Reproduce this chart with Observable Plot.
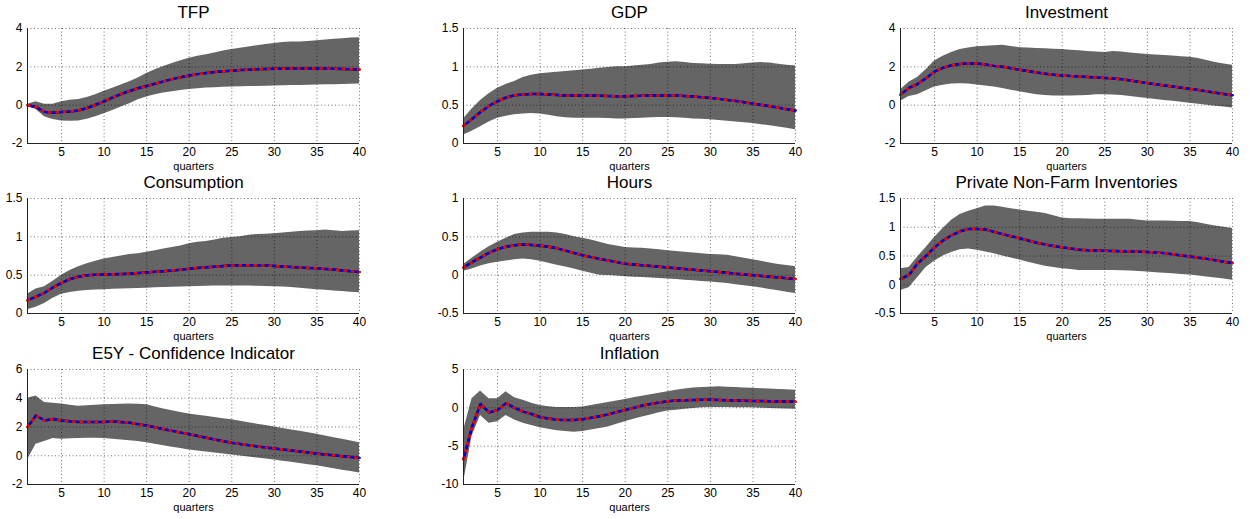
<!DOCTYPE html>
<html>
<head>
<meta charset="utf-8">
<script src="https://cdn.jsdelivr.net/npm/d3@7"></script>
<script src="https://cdn.jsdelivr.net/npm/@observablehq/plot@0.6"></script>
<style>
  body { margin: 0; background: #fff; }
  #root { position: relative; width: 1254px; height: 519px; overflow: hidden; background: #fff; font-family: "Liberation Sans", Arial, sans-serif; }
  #root > div { position: absolute; }
  svg { overflow: visible; }
</style>
</head>
<body>
<div id="root"></div>
<script>
const quarters = [1,2,3,4,5,6,7,8,9,10,11,12,13,14,15,16,17,18,19,20,21,22,23,24,25,26,27,28,29,30,31,32,33,34,35,36,37,38,39,40];
const xTicks = [5,10,15,20,25,30,35,40];

const titles = ["TFP","GDP","Investment","Consumption","Hours","Private Non-Farm Inventories","E5Y - Confidence Indicator","Inflation"];

const tfpMed = [0,-0.1,-0.35,-0.4,-0.36,-0.33,-0.28,-0.15,0.02,0.2,0.4,0.58,0.74,0.88,1.0,1.12,1.24,1.36,1.46,1.55,1.62,1.68,1.73,1.77,1.8,1.83,1.85,1.87,1.89,1.9,1.9,1.91,1.91,1.91,1.91,1.91,1.9,1.89,1.88,1.86];
const tfpHi = [0.05,0.18,0.05,0.05,0.18,0.26,0.3,0.4,0.55,0.72,0.88,1.05,1.22,1.42,1.65,1.85,2.02,2.18,2.32,2.45,2.55,2.63,2.72,2.82,2.9,2.97,3.04,3.1,3.17,3.22,3.27,3.3,3.3,3.32,3.36,3.4,3.44,3.47,3.5,3.52];
const tfpLo = [-0.05,-0.22,-0.6,-0.75,-0.82,-0.84,-0.82,-0.74,-0.6,-0.45,-0.28,-0.1,0.08,0.28,0.43,0.54,0.63,0.7,0.76,0.82,0.86,0.89,0.91,0.93,0.95,0.96,0.97,0.98,0.99,1.0,1.01,1.02,1.03,1.04,1.05,1.06,1.07,1.08,1.09,1.1];

const gdpMed = [0.23,0.32,0.41,0.49,0.55,0.6,0.63,0.64,0.645,0.645,0.64,0.633,0.625,0.625,0.625,0.625,0.623,0.62,0.615,0.615,0.618,0.622,0.625,0.625,0.625,0.625,0.62,0.612,0.604,0.595,0.582,0.568,0.553,0.537,0.52,0.503,0.485,0.467,0.448,0.43];
const gdpHi = [0.32,0.45,0.56,0.65,0.72,0.77,0.81,0.86,0.89,0.91,0.92,0.93,0.94,0.95,0.96,0.97,0.98,0.99,1.0,1.0,1.01,1.02,1.03,1.05,1.06,1.065,1.055,1.045,1.04,1.035,1.03,1.03,1.03,1.04,1.05,1.055,1.05,1.035,1.02,1.01];
const gdpLo = [0.11,0.16,0.22,0.28,0.33,0.355,0.375,0.385,0.39,0.385,0.37,0.35,0.335,0.33,0.33,0.33,0.328,0.325,0.32,0.32,0.325,0.33,0.335,0.34,0.34,0.335,0.33,0.32,0.315,0.31,0.3,0.29,0.28,0.27,0.26,0.245,0.23,0.215,0.2,0.18];

const invMed = [0.55,0.9,1.1,1.4,1.75,1.95,2.08,2.15,2.18,2.17,2.12,2.05,2.0,1.93,1.85,1.78,1.7,1.64,1.59,1.55,1.52,1.5,1.47,1.44,1.42,1.39,1.35,1.29,1.22,1.15,1.09,1.03,0.97,0.91,0.85,0.79,0.72,0.65,0.58,0.52];
const invHi = [0.8,1.2,1.45,1.85,2.3,2.55,2.75,2.9,2.98,3.05,3.08,3.1,3.12,3.06,3.0,2.98,2.96,2.94,2.92,2.9,2.87,2.84,2.8,2.77,2.75,2.8,2.77,2.72,2.68,2.65,2.62,2.59,2.56,2.53,2.5,2.43,2.33,2.22,2.15,2.08];
const invLo = [0.2,0.45,0.55,0.75,0.95,1.04,1.1,1.12,1.1,1.05,1.0,0.95,0.87,0.78,0.7,0.62,0.55,0.5,0.48,0.48,0.48,0.49,0.51,0.54,0.55,0.53,0.5,0.45,0.4,0.35,0.3,0.25,0.2,0.15,0.1,0.05,0.0,-0.05,-0.1,-0.15];

const conMed = [0.17,0.22,0.27,0.34,0.4,0.45,0.48,0.5,0.505,0.51,0.512,0.515,0.52,0.527,0.535,0.543,0.552,0.56,0.572,0.585,0.593,0.602,0.61,0.618,0.625,0.628,0.63,0.63,0.627,0.62,0.614,0.607,0.6,0.595,0.59,0.582,0.573,0.562,0.551,0.54];
const conHi = [0.25,0.32,0.35,0.42,0.5,0.56,0.61,0.65,0.68,0.71,0.73,0.75,0.77,0.78,0.8,0.82,0.84,0.86,0.88,0.91,0.93,0.94,0.96,0.98,0.99,1.0,1.02,1.03,1.035,1.04,1.05,1.06,1.07,1.075,1.08,1.09,1.08,1.07,1.075,1.08];
const conLo = [0.05,0.08,0.13,0.2,0.25,0.275,0.29,0.3,0.305,0.31,0.315,0.32,0.323,0.327,0.33,0.335,0.34,0.343,0.347,0.35,0.353,0.356,0.358,0.36,0.36,0.36,0.358,0.355,0.352,0.35,0.345,0.338,0.33,0.32,0.31,0.302,0.295,0.287,0.278,0.27];

const hrsMed = [0.1,0.17,0.23,0.29,0.34,0.37,0.39,0.4,0.395,0.385,0.37,0.35,0.32,0.29,0.26,0.235,0.21,0.19,0.17,0.15,0.14,0.13,0.12,0.11,0.1,0.09,0.08,0.07,0.06,0.05,0.04,0.03,0.02,0.01,0.0,-0.01,-0.02,-0.03,-0.04,-0.05];
const hrsHi = [0.14,0.22,0.3,0.37,0.43,0.48,0.53,0.55,0.56,0.56,0.56,0.55,0.53,0.5,0.48,0.46,0.43,0.4,0.38,0.36,0.355,0.35,0.34,0.33,0.32,0.31,0.3,0.29,0.28,0.27,0.265,0.26,0.24,0.22,0.2,0.18,0.16,0.14,0.125,0.11];
const hrsLo = [0.05,0.08,0.12,0.15,0.17,0.185,0.2,0.21,0.2,0.18,0.155,0.13,0.105,0.08,0.05,0.025,0.0,-0.005,-0.012,-0.02,-0.026,-0.032,-0.038,-0.044,-0.05,-0.058,-0.066,-0.074,-0.082,-0.09,-0.1,-0.11,-0.125,-0.138,-0.15,-0.168,-0.186,-0.204,-0.222,-0.24];

const pnfMed = [0.1,0.17,0.37,0.5,0.65,0.77,0.86,0.93,0.97,0.97,0.96,0.92,0.88,0.845,0.81,0.77,0.73,0.7,0.675,0.65,0.63,0.61,0.6,0.595,0.59,0.587,0.583,0.58,0.575,0.57,0.56,0.55,0.53,0.51,0.49,0.47,0.45,0.425,0.4,0.38];
const pnfHi = [0.28,0.3,0.48,0.65,0.82,0.98,1.12,1.22,1.28,1.32,1.37,1.37,1.35,1.32,1.3,1.28,1.26,1.24,1.2,1.16,1.15,1.15,1.145,1.14,1.14,1.14,1.14,1.14,1.12,1.11,1.11,1.11,1.105,1.1,1.1,1.08,1.05,1.02,1.0,0.98];
const pnfLo = [-0.1,-0.05,0.12,0.3,0.41,0.5,0.56,0.61,0.62,0.6,0.57,0.54,0.5,0.465,0.43,0.39,0.355,0.32,0.3,0.28,0.265,0.25,0.25,0.25,0.25,0.247,0.243,0.24,0.23,0.22,0.21,0.2,0.19,0.18,0.17,0.152,0.134,0.116,0.098,0.08];

const e5yMed = [2.0,2.8,2.45,2.55,2.45,2.4,2.35,2.35,2.35,2.35,2.38,2.35,2.3,2.2,2.1,1.98,1.85,1.73,1.61,1.5,1.38,1.25,1.13,1.01,0.9,0.82,0.73,0.65,0.57,0.5,0.43,0.37,0.3,0.22,0.15,0.09,0.03,-0.03,-0.09,-0.15];
const e5yHi = [4.0,4.15,3.7,3.65,3.6,3.52,3.45,3.48,3.52,3.55,3.57,3.59,3.6,3.58,3.55,3.4,3.25,3.13,3.01,2.9,2.82,2.74,2.66,2.58,2.5,2.4,2.3,2.2,2.1,2.0,1.9,1.8,1.7,1.6,1.5,1.38,1.26,1.14,1.02,0.9];
const e5yLo = [-0.3,0.8,1.0,1.2,1.15,1.18,1.2,1.22,1.21,1.2,1.15,1.1,1.05,1.0,0.9,0.8,0.7,0.6,0.5,0.4,0.33,0.26,0.19,0.12,0.05,-0.02,-0.09,-0.16,-0.23,-0.3,-0.38,-0.46,-0.54,-0.62,-0.7,-0.8,-0.9,-1.0,-1.1,-1.2];

const infMed = [-6.7,-2.5,0.5,-0.6,-0.3,0.6,0.0,-0.5,-0.8,-1.2,-1.4,-1.55,-1.6,-1.6,-1.5,-1.3,-1.1,-0.85,-0.55,-0.3,0.0,0.3,0.5,0.7,0.85,0.95,1.0,1.02,1.04,1.05,1.03,1.0,0.97,0.93,0.9,0.88,0.86,0.84,0.82,0.8];
const infHi = [-3.0,1.2,2.2,1.2,1.2,2.1,1.3,1.0,0.6,0.3,0.15,0.05,0.05,0.05,0.1,0.3,0.5,0.7,0.9,1.1,1.3,1.5,1.7,1.9,2.1,2.3,2.45,2.6,2.65,2.7,2.75,2.7,2.65,2.6,2.55,2.5,2.45,2.4,2.35,2.3];
const infLo = [-9.8,-3.7,-1.0,-2.0,-1.8,-1.0,-1.6,-2.0,-2.3,-2.6,-2.8,-3.0,-3.1,-3.2,-3.1,-2.9,-2.7,-2.5,-2.15,-1.8,-1.5,-1.2,-0.95,-0.65,-0.4,-0.3,-0.2,-0.1,0.0,0.05,0.05,0.03,0.02,0.01,0.0,-0.05,-0.1,-0.12,-0.15,-0.2];

const yDomains = [[-2,4],[0,1.5],[-2,4],[0,1.5],[-0.5,1],[-0.5,1.5],[-2,6],[-10,5]];
const yTicks = [[-2,0,2,4],[0,0.5,1,1.5],[-2,0,2,4],[0,0.5,1,1.5],[-0.5,0,0.5,1],[-0.5,0,0.5,1,1.5],[-2,0,2,4,6],[-10,-5,0,5]];
const meds = [tfpMed,gdpMed,invMed,conMed,hrsMed,pnfMed,e5yMed,infMed];
const his = [tfpHi,gdpHi,invHi,conHi,hrsHi,pnfHi,e5yHi,infHi];
const los = [tfpLo,gdpLo,invLo,conLo,hrsLo,pnfLo,e5yLo,infLo];

// layout: frame left edges per column, frame top per row
const colLeft = [27, 463, 900];
const rowTop = [28, 198, 369];
const mL = 27, mR = 10, mT = 28, mB = 35;
const frameW = 332, frameH = 115;

const root = document.getElementById("root");
const font = "Liberation Sans, Arial, Helvetica, sans-serif";

titles.forEach((title, i) => {
  const col = i % 3, row = Math.floor(i / 3);
  const data = quarters.map((q, k) => ({q, med: meds[i][k], lo: los[i][k], hi: his[i][k]}));
  const [y0, y1] = yDomains[i];
  const chart = Plot.plot({
    width: frameW + mL + mR,
    height: frameH + mT + mB,
    marginLeft: mL, marginRight: mR, marginTop: mT, marginBottom: mB,
    style: {fontFamily: font, fontSize: "12px", color: "#000", background: "transparent", overflow: "visible"},
    x: {domain: [1, 40]},
    y: {domain: [y0, y1]},
    marks: [
      Plot.areaY(data, {x: "q", y1: "lo", y2: "hi", fill: "#656565", fillOpacity: 1}),
      Plot.gridX(xTicks, {stroke: "#000", strokeOpacity: 0.55, strokeDasharray: "1,2.5", strokeWidth: 1}),
      Plot.gridY(yTicks[i], {stroke: "#000", strokeOpacity: 0.55, strokeDasharray: "1,2.5", strokeWidth: 1}),
      Plot.lineY(data, {x: "q", y: "med", stroke: "#000", strokeWidth: 2.5}),
      Plot.lineY(data, {x: "q", y: "med", stroke: "#ff0000", strokeWidth: 2.5, strokeDasharray: "2.5,5"}),
      Plot.lineY(data, {x: "q", y: "med", stroke: "#0000ff", strokeWidth: 2, strokeDasharray: "2.5,5", strokeDashoffset: 3.7}),
      Plot.ruleX([1], {stroke: "#222", strokeWidth: 1}),
      Plot.ruleY([y0], {stroke: "#222", strokeWidth: 1}),
      Plot.axisX({ticks: xTicks, tickSize: 0, tickPadding: 4, label: null, fontSize: 12, tickFormat: d => String(d)}),
      Plot.axisY({ticks: yTicks[i], tickSize: 0, tickPadding: 5, label: null, fontSize: 12, tickFormat: d => String(d)}),
      Plot.text([title], {frameAnchor: "top", lineAnchor: "middle", dy: -16, fontSize: 17, fill: "#000"}),
      Plot.text(["quarters"], {frameAnchor: "bottom", lineAnchor: "middle", dy: 23, fontSize: 11, fill: "#000"})
    ]
  });
  const wrap = document.createElement("div");
  wrap.style.left = (colLeft[col] - mL) + "px";
  wrap.style.top = (rowTop[row] - mT) + "px";
  wrap.appendChild(chart);
  root.appendChild(wrap);
});
</script>
</body>
</html>
